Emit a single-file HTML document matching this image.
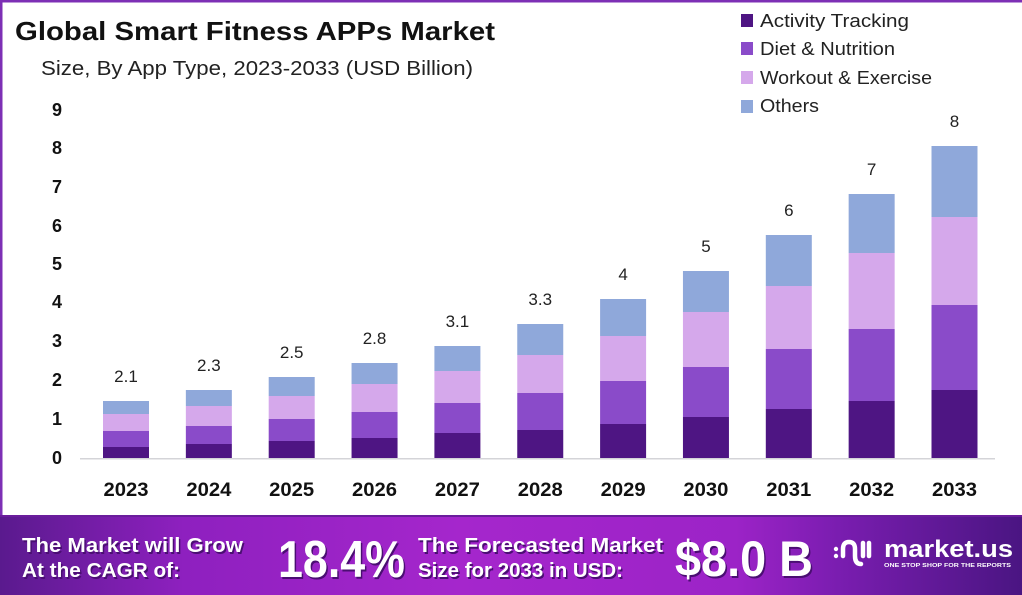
<!DOCTYPE html>
<html>
<head>
<meta charset="utf-8">
<style>
  html,body{margin:0;padding:0;background:#fff;}
  body{width:1022px;height:595px;overflow:hidden;}
  svg{display:block;}
  text{font-family:"Liberation Sans",sans-serif;}
</style>
</head>
<body>
<svg width="1022" height="595" viewBox="0 0 1022 595" xmlns="http://www.w3.org/2000/svg">
  <defs>
    <linearGradient id="ban" x1="0" y1="0" x2="1" y2="0">
      <stop offset="0" stop-color="#5a1a8e"/>
      <stop offset="0.18" stop-color="#8e20bf"/>
      <stop offset="0.45" stop-color="#a526cc"/>
      <stop offset="0.72" stop-color="#9c23c7"/>
      <stop offset="0.82" stop-color="#7a1db0"/>
      <stop offset="1" stop-color="#4a1582"/>
    </linearGradient>
  </defs>
  <rect x="0" y="0" width="1022" height="595" fill="#ffffff"/>
  <!-- border -->
  <rect x="0" y="0" width="1022" height="2.5" fill="#7d2fb5"/>
  <rect x="0" y="0" width="2.5" height="515" fill="#7d2fb5"/>

  <!-- title -->
  <text x="15" y="40" font-size="26" font-weight="bold" fill="#111" textLength="480" lengthAdjust="spacingAndGlyphs">Global Smart Fitness APPs Market</text>
  <text x="41" y="75" font-size="20" fill="#222" textLength="432" lengthAdjust="spacingAndGlyphs">Size, By App Type, 2023-2033 (USD Billion)</text>

  <!-- legend -->
  <rect x="741" y="14" width="12" height="13" fill="#4e1583"/>
  <text x="760" y="27" font-size="18" fill="#222" textLength="149" lengthAdjust="spacingAndGlyphs">Activity Tracking</text>
  <rect x="741" y="42" width="12" height="13" fill="#8a4bc9"/>
  <text x="760" y="55" font-size="18" fill="#222" textLength="135" lengthAdjust="spacingAndGlyphs">Diet &amp; Nutrition</text>
  <rect x="741" y="71" width="12" height="13" fill="#d5a8eb"/>
  <text x="760" y="84" font-size="18" fill="#222" textLength="172" lengthAdjust="spacingAndGlyphs">Workout &amp; Exercise</text>
  <rect x="741" y="100" width="12" height="13" fill="#8fa8da"/>
  <text x="760" y="112" font-size="18" fill="#222" textLength="59" lengthAdjust="spacingAndGlyphs">Others</text>

  <!-- y ticks -->
  <g font-size="18" font-weight="bold" fill="#111" text-anchor="middle">
    <text x="57" y="116">9</text>
    <text x="57" y="154">8</text>
    <text x="57" y="193">7</text>
    <text x="57" y="232">6</text>
    <text x="57" y="270">5</text>
    <text x="57" y="308">4</text>
    <text x="57" y="347">3</text>
    <text x="57" y="386">2</text>
    <text x="57" y="425">1</text>
    <text x="57" y="464">0</text>
  </g>

  <!-- axis line -->
  <rect x="80" y="458" width="915" height="1.5" fill="#d4d4d8"/>

  <!-- bars -->
  <g id="bars"></g>

  <!-- banner -->
  <rect x="0" y="515" width="1022" height="80" fill="url(#ban)"/>
  <rect x="0" y="515" width="1022" height="2" fill="#6a1d9c"/>

  <g font-weight="bold">
    <g fill="#4a0e72" transform="translate(1.5,2)">
      <text x="22" y="552" font-size="20" textLength="221" lengthAdjust="spacingAndGlyphs">The Market will Grow</text>
      <text x="22" y="577" font-size="20" textLength="158" lengthAdjust="spacingAndGlyphs">At the CAGR of:</text>
      <text x="278" y="577" font-size="52" textLength="127" lengthAdjust="spacingAndGlyphs">18.4%</text>
      <text x="418" y="552" font-size="20" textLength="245" lengthAdjust="spacingAndGlyphs">The Forecasted Market</text>
      <text x="418" y="577" font-size="20" textLength="205" lengthAdjust="spacingAndGlyphs">Size for 2033 in USD:</text>
      <text x="675" y="576" font-size="50" textLength="138" lengthAdjust="spacingAndGlyphs">$8.0 B</text>
    </g>
    <g fill="#ffffff">
      <text x="22" y="552" font-size="20" textLength="221" lengthAdjust="spacingAndGlyphs">The Market will Grow</text>
      <text x="22" y="577" font-size="20" textLength="158" lengthAdjust="spacingAndGlyphs">At the CAGR of:</text>
      <text x="278" y="577" font-size="52" textLength="127" lengthAdjust="spacingAndGlyphs">18.4%</text>
      <text x="418" y="552" font-size="20" textLength="245" lengthAdjust="spacingAndGlyphs">The Forecasted Market</text>
      <text x="418" y="577" font-size="20" textLength="205" lengthAdjust="spacingAndGlyphs">Size for 2033 in USD:</text>
      <text x="675" y="576" font-size="50" textLength="138" lengthAdjust="spacingAndGlyphs">$8.0 B</text>
    </g>
  </g>

  <!-- logo icon -->
  <g fill="none" stroke="#ffffff" stroke-width="4.5" stroke-linecap="round">
    <path d="M843 556 L843 549 Q843 542 849 542 Q855 542 855 549 L855 556 Q855 564 861 564"/>
    <line x1="863" y1="543" x2="863" y2="556"/>
    <line x1="869" y1="543" x2="869" y2="556"/>
  </g>
  <circle cx="836" cy="549" r="2.2" fill="#fff"/>
  <circle cx="836" cy="556" r="2.2" fill="#fff"/>
  <text x="884" y="557" font-size="24" font-weight="bold" fill="#fff" textLength="129" lengthAdjust="spacingAndGlyphs">market.us</text>
  <text x="884" y="567" font-size="5.5" font-weight="bold" fill="#fff" textLength="127" lengthAdjust="spacingAndGlyphs">ONE STOP SHOP FOR THE REPORTS</text>

  <script>
  (function(){
    var ns="http://www.w3.org/2000/svg";
    var g=document.getElementById("bars");
    var years=["2023","2024","2025","2026","2027","2028","2029","2030","2031","2032","2033"];
    var labels=["2.1","2.3","2.5","2.8","3.1","3.3","4","5","6","7","8"];
    var d=[[401,414,431,447],[390,406,426,444],[377,396,419,441],[363,384,412,438],[346,371,403,433],[324,355,393,430],[299,336,381,424],[271,312,367,417],[235,286,349,409],[194,253,329,401],[146,217,305,390]];
    var cols=["#8fa8da","#d5a8eb","#8a4bc9","#4e1583"];
    function el(n,a){var e=document.createElementNS(ns,n);for(var k in a)e.setAttribute(k,a[k]);return e;}
    for(var i=0;i<11;i++){
      var c=126+82.85*i, x=c-23, r=d[i];
      var ys=[r[0],r[1],r[2],r[3],458];
      for(var s=0;s<4;s++){
        g.appendChild(el("rect",{x:x,y:ys[s],width:46,height:ys[s+1]-ys[s],fill:cols[s]}));
      }
      var t=el("text",{x:c,y:r[0]-19,"font-size":"17","text-anchor":"middle",fill:"#222"});
      t.textContent=labels[i];g.appendChild(t);
      var t2=el("text",{x:c,y:496,"font-size":"19","font-weight":"bold","text-anchor":"middle",fill:"#111",textLength:"45",lengthAdjust:"spacingAndGlyphs"});
      t2.textContent=years[i];g.appendChild(t2);
    }
  })();
  </script>
</svg>
</body>
</html>
